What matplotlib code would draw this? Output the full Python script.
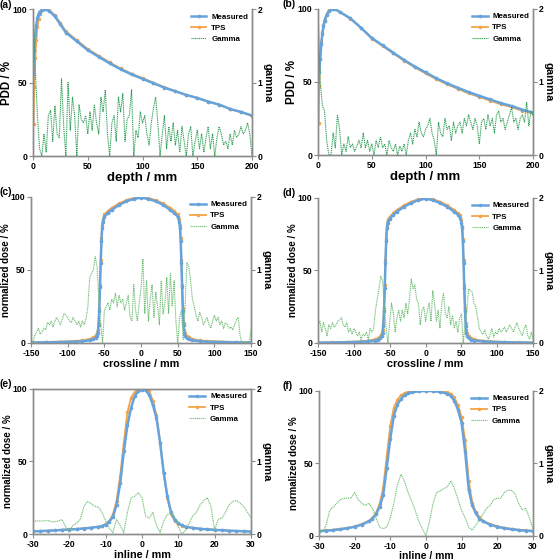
import numpy as np
import matplotlib
matplotlib.use("Agg")
import matplotlib.pyplot as plt

plt.rcParams['font.family'] = ['Liberation Sans', 'DejaVu Sans']
plt.rcParams['font.weight'] = 'bold'
plt.rcParams['axes.labelweight'] = 'bold'
plt.rcParams['axes.unicode_minus'] = False

# colours
c_meas = '#66a3dc'
c_tps = '#f5a445'
c_gam_dark = '#2f9e55'
c_gam_light = '#6dbd72'
c_axis = '#8c8c8c'

# ---------------- (a) PDD ----------------
pdd_a_meas_x = [0, 1, 2, 3, 4, 5, 6, 8, 10, 12, 15, 20, 25, 30, 40, 50, 60, 70, 80, 90, 100,
                110, 120, 130, 140, 150, 160, 170, 180, 190, 200]
pdd_a_meas = [56, 72, 82, 89, 94, 96.5, 98, 99.5, 100, 99.7, 98.5, 95, 89.5, 84, 78, 72, 67.5,
              63, 59, 55.5, 52.5, 49.5, 46.5, 44, 41.5, 39.5, 37, 35, 32, 30, 27.5]
pdd_a_tps_x = [0.5, 1, 2, 3, 4, 5, 6, 8, 10, 12, 15, 20, 25, 30, 40, 50, 60, 70, 80, 90, 100,
               110, 120, 130, 140, 150, 160, 170, 180, 190, 200]
pdd_a_tps = [22, 47, 67, 79, 88, 93, 96.5, 99, 100, 100, 99.2, 95.8, 90.3, 84.8, 78.8, 72.8, 68.2,
             63.7, 59.6, 56, 53, 49.9, 46.8, 44.2, 41.6, 39.5, 37, 34.9, 31.9, 29.8, 27.2]
gam_a = [2.0, 1.2, 0.55, 0.1, 0.0, 0.3,
         0.05, 0.55, 0.62, 0.2, 0.68, 0.3, 0.25, 1.05, 0.4, 0.0,
         1.0, 0.35, 0.8, 0.55, 0.0, 0.7, 0.5, 0.45, 0.55, 0.3,
         0.6, 0.35, 0.7, 0.45, 0.3, 0.8, 0.6, 0.9, 0.3, 0.0,
         0.45, 0.55, 0.2, 0.8, 0.6, 0.85, 0.2, 0.5, 0.55, 0.9,
         0.0, 0.35, 0.25, 0.6, 0.45, 0.55, 0.3, 0.15, 0.45, 0.65,
         0.8, 0.45, 0.0, 0.3, 0.55, 0.1, 0.4, 0.2, 0.45, 0.15,
         0.35, 0.05, 0.4, 0.2, 0.0, 0.3, 0.4, 0.0, 0.2, 0.35,
         0.1, 0.3, 0.05, 0.25, 0.4, 0.1, 0.3, 0.0, 0.25, 0.4,
         0.3, 0.15, 0.2, 0.1, 0.3, 0.15, 0.35, 0.25, 0.3, 0.4,
         0.3, 0.35, 0.45, 0.3, 0.0]

# ---------------- (b) PDD ----------------
pdd_b_meas_x = [0, 1, 2, 3, 4, 5, 6, 8, 10, 12, 14, 16, 20, 30, 40, 50, 60, 70, 80, 90, 100,
                110, 120, 130, 140, 150, 160, 170, 180, 190, 200]
pdd_b_meas = [50, 57, 66, 76, 83, 88, 91.5, 96, 98.5, 99.7, 100, 99.6, 98, 93.5, 87, 80, 75,
              70, 65, 60.5, 56.5, 52.5, 49, 46, 43, 40.5, 38, 35.5, 33.5, 31, 29]
pdd_b_tps_x = [0.5, 1, 2, 3, 4, 5, 6, 8, 10, 12, 14, 16, 20, 30, 40, 50, 60, 70, 80, 90, 100,
               110, 120, 130, 140, 150, 160, 170, 180, 190, 200]
pdd_b_tps = [22, 47, 66, 77, 84, 89, 92.5, 96.5, 99, 100, 100, 99.6, 98, 93.3, 86.8, 79.7, 74.6,
             69.5, 64.4, 59.9, 55.8, 51.8, 48.3, 45.2, 42.2, 39.7, 37.2, 34.7, 32.7, 30.3, 28.3]
gam_b = [2.0, 1.0, 0.68, 0.6, 0.2, 0.0, 0.0, 0.3, 0.1, 0.55,
         0.35, 0.0, 0.15, 0.05, 0.25, 0.1, 0.15, 0.05, 0.12, 0.2,
         0.1, 0.3, 0.1, 0.2, 0.05, 0.15, 0.0, 0.2, 0.1, 0.25,
         0.1, 0.15, 0.0, 0.2, 0.1, 0.05, 0.15, 0.0, 0.12, 0.05,
         0.15, 0.0, 0.2, 0.3, 0.15, 0.35, 0.25, 0.45, 0.3, 0.25,
         0.35, 0.4, 0.5, 0.3, 0.2, 0.0, 0.45, 0.3, 0.25, 0.5,
         0.35, 0.4, 0.2, 0.45, 0.3, 0.4, 0.45, 0.3, 0.5, 0.4,
         0.55, 0.45, 0.35, 0.5, 0.4, 0.15, 0.45, 0.5, 0.35, 0.55,
         0.4, 0.5, 0.3, 0.55, 0.6, 0.45, 0.5, 0.35, 0.45, 0.55,
         0.65, 0.45, 0.5, 0.35, 0.5, 0.55, 0.45, 0.72, 0.4, 0.6,
         0.55]

# ---------------- (c) crossline ----------------
prof_c_x = [-150, -130, -110, -90, -80, -70, -65, -62, -60, -59, -58, -57, -56, -55, -54, -53, -52,
            -50, -45, -40, -30, -20, -10, 0, 10, 20, 30, 40, 45, 50, 52, 53, 54, 55, 56, 57, 58,
            59, 60, 62, 65, 70, 80, 90, 110, 130, 150]
prof_c_meas = [0.3, 0.4, 0.6, 0.9, 1.2, 1.8, 2.5, 3.5, 5, 7, 12, 22, 38, 55, 70, 79, 83,
               86.5, 89, 91, 94.5, 97, 98.5, 99.5, 98.5, 97, 94.5, 91, 89, 86.5, 83, 79, 70, 55, 38,
               22, 12, 7, 5, 3.5, 2.5, 1.8, 1.2, 0.9, 0.6, 0.4, 0.3]
prof_c_tps = [0.5, 0.7, 1.0, 1.4, 1.8, 2.8, 3.8, 5, 7, 9, 14, 24, 40, 57, 72, 81, 85,
              88, 90.5, 92.5, 95.5, 97.8, 99.2, 100, 99.2, 97.8, 95.5, 92.5, 90.5, 88, 85, 81, 72, 57,
              40, 24, 14, 9, 7, 5, 3.8, 2.8, 1.8, 1.4, 1.0, 0.7, 0.5]
gam_c = [0.05, 0.0, 0.1, 0.15, 0.2, 0.12, 0.15, 0.2, 0.18, 0.28,
         0.25, 0.3, 0.22, 0.3, 0.35, 0.3, 0.25, 0.32, 0.4, 0.38,
         0.35, 0.3, 0.28, 0.35, 0.3, 0.25, 0.3, 0.22, 0.3, 0.25,
         0.33, 0.5, 0.9, 0.95, 1.0, 1.18, 1.05, 0.6, 0.25, 0.0,
         0.45, 0.5, 0.55, 0.45, 0.6, 0.55, 0.68, 0.5, 0.65, 0.55,
         0.6, 0.45, 0.55, 0.65, 0.35, 0.3, 0.8, 0.45, 0.3, 0.55,
         0.75, 1.15, 0.4, 0.85, 0.3, 0.6, 0.8, 0.35, 0.7, 0.5,
         0.25, 0.85, 0.4, 0.55, 0.9, 0.4, 0.95, 0.5, 0.85, 0.3,
         0.0, 0.35, 0.45, 0.05, 0.5, 1.1, 1.05, 0.85, 0.6, 0.5,
         0.38, 0.3, 0.42, 0.35, 0.25, 0.3, 0.35, 0.25, 0.2, 0.3,
         0.38, 0.3, 0.35, 0.25, 0.3, 0.2, 0.28, 0.25, 0.2, 0.22,
         0.18, 0.25, 0.32, 0.35, 0.1, 0.0, 0.02, 0.0, 0.02, 0.0,
         0.2]

# ---------------- (d) crossline ----------------
prof_d_x = [-150, -130, -110, -90, -80, -70, -66, -63, -61, -60, -59, -58, -57, -56, -55, -54, -53,
            -50, -45, -40, -30, -20, -10, 0, 10, 20, 30, 40, 45, 48, 50, 51, 52, 53, 54, 55, 56,
            57, 58, 60, 63, 68, 80, 90, 110, 130, 150]
prof_d_meas = [0.2, 0.3, 0.5, 0.8, 1.1, 1.7, 2.4, 3.4, 5, 7, 12, 22, 38, 55, 70, 79, 83,
               85.5, 88.5, 90.5, 94, 96.5, 98.5, 99.5, 98.5, 96.5, 94, 90.5, 88.5, 86.5, 83, 79, 70,
               55, 38, 22, 12, 7, 5, 3.4, 2.4, 1.7, 1.1, 0.8, 0.5, 0.3, 0.2]
prof_d_tps = [0.3, 0.5, 0.8, 1.2, 1.6, 2.6, 3.6, 4.8, 7, 9, 14, 24, 40, 57, 72, 81, 85,
              87, 89.8, 91.8, 95, 97.5, 99.2, 100, 99.2, 97.5, 95, 91.8, 89.8, 88, 85, 81, 72, 57,
              40, 24, 14, 9, 7, 4.8, 3.6, 2.6, 1.6, 1.2, 0.8, 0.5, 0.3]
gam_d = [0.25, 0.3, 0.15, 0.28, 0.2, 0.1, 0.25, 0.2, 0.28, 0.22,
         0.25, 0.3, 0.32, 0.35, 0.25, 0.22, 0.28, 0.15, 0.2, 0.12,
         0.2, 0.15, 0.1, 0.15, 0.05, 0.12, 0.1, 0.15, 0.05, 0.2,
         0.15, 0.2, 0.45, 0.6, 0.75, 0.92, 0.85, 0.5, 0.2, 0.0,
         0.3, 0.55, 0.4, 0.15, 0.35, 0.45, 0.3, 0.45, 0.35, 0.55,
         0.4, 0.6, 0.88, 0.75, 0.8, 0.6, 0.55, 0.25, 0.45, 0.5,
         0.3, 0.45, 0.55, 0.3, 0.72, 0.55, 0.3, 0.45, 0.2, 0.55,
         0.68, 0.4, 0.35, 0.5, 0.25, 0.38, 0.2, 0.3, 0.15, 0.35,
         0.4, 0.0, 0.25, 0.45, 0.75, 0.72, 0.7, 0.55, 0.5, 0.35,
         0.2, 0.15, 0.12, 0.18, 0.1, 0.05, 0.12, 0.2, 0.08, 0.15,
         0.12, 0.2, 0.15, 0.18, 0.22, 0.15, 0.2, 0.25, 0.2, 0.15,
         0.22, 0.28, 0.2, 0.15, 0.1, 0.2, 0.25, 0.1, 0.05, 0.15,
         0.05]

# ---------------- (e) inline ----------------
prof_e_x = [-30, -28, -26, -24, -22, -20, -18, -16, -14, -12, -11, -10, -9, -8, -7, -6, -5, -4, -3,
            -2, -1, 0, 1, 2, 3, 4, 5, 6, 7, 8, 9, 10, 11, 12, 14, 16, 18, 20, 22, 24, 26, 28, 30]
prof_e_meas = [1.8, 2.0, 2.2, 2.5, 2.8, 3.1, 3.4, 3.8, 4.3, 5.0, 5.5, 6.5, 8.5, 12, 20, 35, 57, 75,
               87, 95, 98.5, 99.5, 99, 96, 89, 80, 63, 42, 26, 15, 10, 7.5, 6, 5, 4.2, 3.6, 3.2,
               2.9, 2.6, 2.3, 2.1, 1.9, 1.7]
prof_e_tps = [1.9, 2.1, 2.3, 2.6, 2.9, 3.2, 3.5, 3.9, 4.4, 5.0, 5.5, 6.8, 9, 13.5, 23, 40, 63, 84,
              94, 98, 99.8, 100, 100, 98.5, 92, 82, 63, 42, 25, 14, 9, 7, 5.8, 5, 4.3, 3.7, 3.3,
              2.9, 2.6, 2.3, 2.1, 1.9, 1.7]
gam_e = [0.18, 0.18, 0.18, 0.18, 0.19, 0.17, 0.17, 0.18, 0.2, 0.1, 0.04, 0.12, 0.15, 0.2, 0.38,
         0.45, 0.42, 0.38, 0.37, 0.3, 0.18, 0.08, 0.02, 0.2, 0.12, 0.02, 0.3, 0.5, 0.52, 0.57,
         0.5, 0.25, 0.22, 0.3, 0.12, 0.02, 0.18, 0.27, 0.3, 0.24, 0.1, 0.0, 0.05, 0.15, 0.25,
         0.3, 0.4, 0.46, 0.5, 0.38, 0.06, 0.2, 0.22, 0.3, 0.4, 0.45, 0.46, 0.43, 0.38, 0.3, 0.23]

# ---------------- (f) inline ----------------
prof_f_x = [-30, -28, -26, -24, -22, -20, -18, -16, -15, -14, -13, -12, -11, -10, -9, -8, -7, -6,
            -5, -4, -2, 0, 2, 4, 6, 7, 8, 9, 10, 11, 12, 13, 14, 15, 16, 18, 20, 22, 24, 26, 28, 30]
prof_f_meas = [3.3, 3.6, 4.0, 4.6, 5.3, 6.3, 7.8, 10, 12, 15, 20, 28, 47, 67, 83, 90.5, 94.5, 97,
               98.3, 99, 99.7, 100, 99.8, 99.3, 98, 96.5, 93, 87, 78, 58, 32, 21, 15.5, 12, 10,
               7.8, 6.3, 5.3, 4.6, 4.0, 3.6, 3.3]
prof_f_tps = [3.5, 3.9, 4.3, 4.9, 5.6, 6.6, 8.1, 10.5, 12.5, 16, 22, 33, 55, 76, 88.5, 94, 97,
              98.5, 99.3, 99.7, 100, 100, 100, 99.8, 99, 98, 95.5, 90, 82, 66, 38, 23, 16.5, 12.8,
              10.5, 8.1, 6.6, 5.6, 4.9, 4.3, 3.9, 3.5]
gam_f = [0.1, 0.05, 0.15, 0.35, 0.4, 0.45, 0.5, 0.52, 0.52, 0.52, 0.6, 0.5, 0.45, 0.42, 0.45,
         0.38, 0.25, 0.12, 0.1, 0.12, 0.25, 0.45, 0.7, 0.85, 0.75, 0.6, 0.48, 0.35, 0.2, 0.1,
         0.0, 0.2, 0.45, 0.6, 0.62, 0.65, 0.68, 0.76, 0.65, 0.5, 0.35, 0.25, 0.12, 0.08, 0.15,
         0.22, 0.3, 0.38, 0.42, 0.5, 0.52, 0.52, 0.6, 0.63, 0.63, 0.58, 0.45, 0.36, 0.38, 0.25, 0.1]

dose_ticks = [-150, -100, -50, 0, 50, 100, 150]
inline_ticks = [-30, -20, -10, 0, 10, 20, 30]
pdd_ticks = [0, 50, 100, 150, 200]

panels = [
    dict(tag='(a)', pos=[0.059, 0.7214, 0.391, 0.2625], mx=pdd_a_meas_x, my=pdd_a_meas,
         tx=pdd_a_tps_x, ty=pdd_a_tps, gx=np.linspace(0, 200, len(gam_a)), gy=gam_a,
         gc=c_gam_dark, xlim=(0, 200), xticks=pdd_ticks, xlabel='depth / mm', xfs=9.5,
         ylabel='PDD / %', yfs=8.3),
    dict(tag='(b)', pos=[0.568, 0.7232, 0.384, 0.261], mx=pdd_b_meas_x, my=pdd_b_meas,
         tx=pdd_b_tps_x, ty=pdd_b_tps, gx=np.linspace(0, 200, len(gam_b)), gy=gam_b,
         gc=c_gam_dark, xlim=(0, 200), xticks=pdd_ticks, xlabel='depth / mm', xfs=9.5,
         ylabel='PDD / %', yfs=8.3),
    dict(tag='(c)', pos=[0.0554, 0.3875, 0.393, 0.261], mx=prof_c_x, my=prof_c_meas,
         tx=prof_c_x, ty=prof_c_tps, gx=np.linspace(-150, 150, len(gam_c)), gy=gam_c,
         gc=c_gam_light, xlim=(-150, 150), xticks=dose_ticks, xlabel='crossline / mm', xfs=7.8,
         ylabel='normalized dose / %', yfs=7),
    dict(tag='(d)', pos=[0.568, 0.3875, 0.384, 0.259], mx=prof_d_x, my=prof_d_meas,
         tx=prof_d_x, ty=prof_d_tps, gx=np.linspace(-150, 150, len(gam_d)), gy=gam_d,
         gc=c_gam_light, xlim=(-150, 150), xticks=dose_ticks, xlabel='crossline / mm', xfs=7.8,
         ylabel='normalized dose / %', yfs=7),
    dict(tag='(e)', pos=[0.059, 0.0464, 0.389, 0.259], mx=prof_e_x, my=prof_e_meas,
         tx=prof_e_x, ty=prof_e_tps, gx=np.linspace(-30, 30, len(gam_e)), gy=gam_e,
         gc=c_gam_light, xlim=(-30, 30), xticks=inline_ticks, xlabel='inline / mm', xfs=7.8,
         ylabel='normalized dose / %', yfs=7),
    dict(tag='(f)', pos=[0.5696, 0.043, 0.382, 0.259], mx=prof_f_x, my=prof_f_meas,
         tx=prof_f_x, ty=prof_f_tps, gx=np.linspace(-30, 30, len(gam_f)), gy=gam_f,
         gc=c_gam_light, xlim=(-30, 30), xticks=inline_ticks, xlabel='inline / mm', xfs=7.5,
         ylabel='normalized dose / %', yfs=7),
]

fig = plt.figure(figsize=(5.6, 5.6), dpi=100)

for i, p in enumerate(panels):
    ax = fig.add_axes(p['pos'])
    ax2 = ax.twinx()
    right_col = i % 2 == 1

    l1, = ax.plot(p['mx'], p['my'], color=c_meas, lw=1.8, marker='o', ms=1.6, label='Measured',
                  zorder=3)
    l2, = ax.plot(p['tx'], p['ty'], color=c_tps, lw=1.3, marker='o', ms=1.5, label='TPS',
                  zorder=2)
    l3, = ax2.plot(p['gx'], p['gy'], color=p['gc'], lw=0.8, ls=(0, (1, 0.7)), label='Gamma')

    ax.set_xlim(*p['xlim'])
    ax.set_ylim(0, 100)
    ax2.set_ylim(0, 2)
    ax.set_xticks(p['xticks'])
    ax.set_yticks([0, 50, 100])
    ax2.set_yticks([0, 1, 2])

    for a in (ax, ax2):
        for s in a.spines.values():
            s.set_color(c_axis)
            s.set_linewidth(1.0)
        a.spines['top'].set_visible(i == 4)
        a.tick_params(direction='out', length=3, width=0.8, color=c_axis, labelsize=6.2, pad=1.2)

    ax.set_xlabel(p['xlabel'], fontsize=p['xfs'], labelpad=0 if i == 5 else 1)
    ax.set_ylabel(p['ylabel'], fontsize=p['yfs'], labelpad=0)
    ax2.set_ylabel('gamma', fontsize=8, rotation=270, labelpad=7)

    ax2.legend(handles=[l1, l2, l3], loc='upper right', frameon=False, fontsize=5.7,
               handlelength=2.0, borderaxespad=0.3, labelspacing=0.45, handletextpad=0.6,
               borderpad=0.2)

    # panel tag sits just left of the top tick label, in its own column
    tag_x = 0.505 if right_col else 0.0
    fig.text(tag_x, p['pos'][1] + p['pos'][3] + 0.008, p['tag'],
             fontsize=7.5, fontweight='bold', va='center', ha='left')

fig.savefig('out.png', dpi=100)
